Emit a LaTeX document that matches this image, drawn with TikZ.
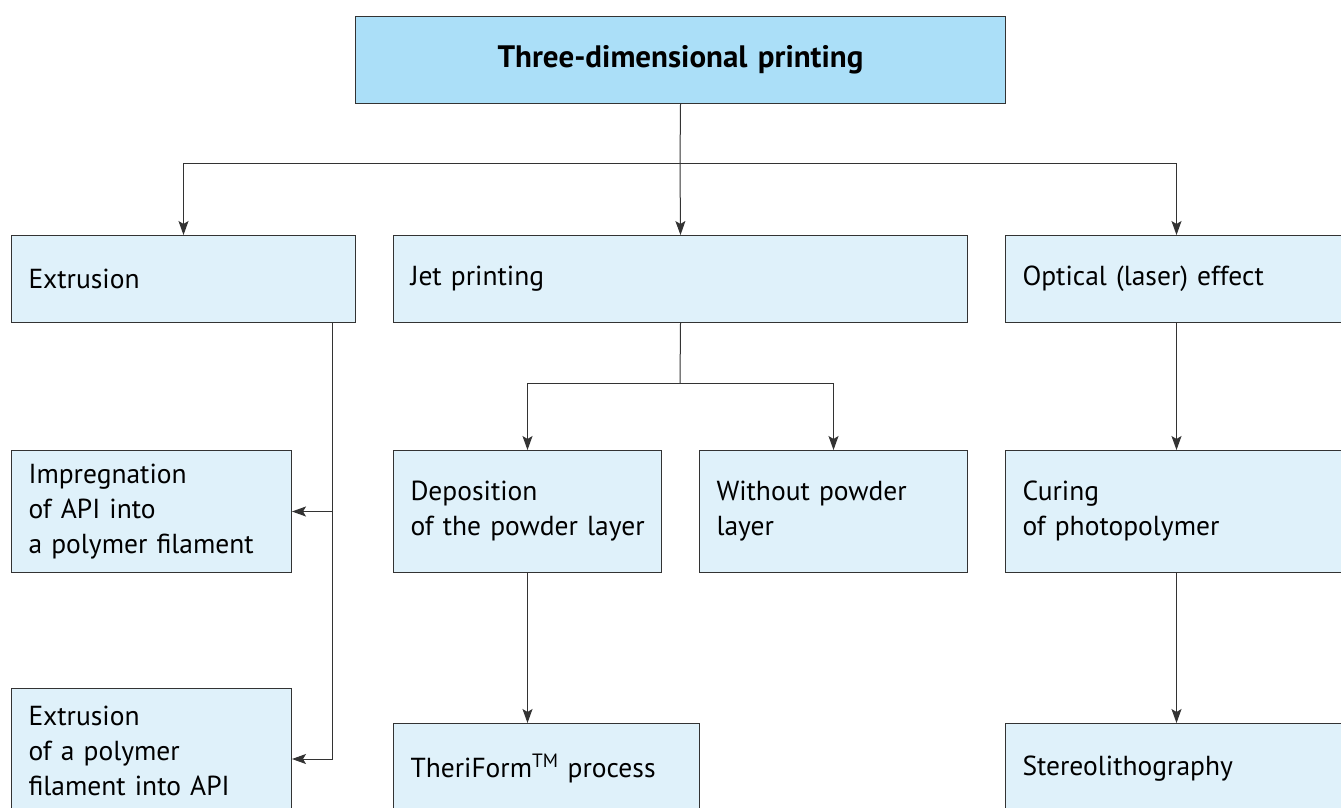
\documentclass[tikz,border=0pt]{standalone}
\usepackage{fontspec}
\setmainfont{PT Sans}
\usetikzlibrary{arrows.meta}
\definecolor{topfill}{HTML}{ABDFF8}
\definecolor{boxfill}{HTML}{DFF1FA}
\definecolor{linec}{HTML}{333333}
\begin{document}
\begin{tikzpicture}[x=1pt,y=-1pt,
  box/.style={draw=linec,line width=1pt,fill=boxfill,anchor=north west,
    inner xsep=17pt,inner ysep=0pt,align=left,minimum height=#1,
    font=\fontsize{27.5}{35}\selectfont},
  arr/.style={draw=linec,line width=1pt,-{Stealth[length=14pt,width=10pt,inset=3pt]}},
  ln/.style={draw=linec,line width=1pt}]
\useasboundingbox (0,0) rectangle (1341,807);
\clip (0,0) rectangle (1341,807);
\node[box=87pt,fill=topfill,minimum width=650pt,text width=616pt,align=center,
  font=\fontsize{31}{35}\selectfont\bfseries] (top) at (355,16) {\raisebox{-4pt}{Three-dimensional printing}};
\node[box=87pt,minimum width=344pt,text width=310pt] (ext) at (11,235) {Extrusion};
\node[box=87pt,minimum width=574pt,text width=540pt] (jet) at (393,235) {\raisebox{-3pt}{Jet printing}};
\node[box=87pt,minimum width=342pt,text width=308pt] (opt) at (1005,235) {\raisebox{-3pt}{Optical (laser) effect}};
\node[box=122pt,minimum width=280pt,text width=246pt] (imp) at (11,450) {Impregnation\\of API into\\a polymer filament};
\node[box=125pt,minimum width=280pt,text width=246pt] (ext2) at (11,688) {Extrusion\\of a polymer\\filament into API};
\node[box=122pt,minimum width=268pt,text width=234pt] (dep) at (393,450) {Deposition\\\mbox{of the powder layer}};
\node[box=122pt,minimum width=268pt,text width=234pt] (wop) at (699,450) {Without powder\\layer};
\node[box=122pt,minimum width=342pt,text width=308pt] (cur) at (1005,450) {Curing\\of photopolymer};
\node[box=90pt,minimum width=306pt,text width=272pt] (the) at (393,723) {TheriForm\textsuperscript{TM} process};
\node[box=90pt,minimum width=342pt,text width=308pt] (ste) at (1005,723) {\raisebox{-2pt}{Stereolithography}};
\coordinate (hub) at (680,163);
\coordinate (hub2) at (680,383);
\draw[ln] (top.south) -- (hub);
\draw[arr] (hub) -| (ext.north);
\draw[arr] (hub) -- (jet.north);
\draw[arr] (hub) -| (opt.north);
\draw[ln] (jet.south) -- (hub2);
\draw[arr] (hub2) -| (dep.north);
\draw[arr] (hub2) -| (wop.north);
\coordinate (ev) at ([xshift=-24pt]ext.south east);
\draw[arr] (ev) |- (imp.east);
\draw[arr] (ev) |- ([yshift=-8pt]ext2.east);
\draw[arr] (dep.south) -- (dep.south |- the.north);
\draw[arr] (opt.south) -- (cur.north);
\draw[arr] (cur.south) -- (ste.north);
\end{tikzpicture}
\end{document}
